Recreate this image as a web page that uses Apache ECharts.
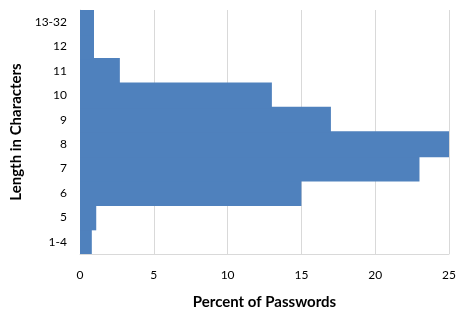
<!DOCTYPE html>
<html><head><meta charset="utf-8">
<script src="https://cdn.jsdelivr.net/npm/echarts@6/dist/echarts.min.js"></script>
<style>html,body{margin:0;padding:0;background:#fff}#c{width:458px;height:318px}</style>
</head><body><div id="c"></div>
<script>
var categories = ['1-4','5','6','7','8','9','10','11','12','13-32'];
var percents = [0.8, 1.1, 15, 23, 25, 17, 13, 2.7, 0.95, 0.95];
var xTicks = {min: 0, max: 25, interval: 5};

var chart = echarts.init(document.getElementById('c'));
chart.setOption({
  animation: false,
  grid: {left: 80, right: 9, top: 10, bottom: 64, containLabel: false, outerBoundsMode: 'none'},
  xAxis: {
    type: 'value', min: xTicks.min, max: xTicks.max, interval: xTicks.interval,
    name: 'Percent of Passwords', nameLocation: 'middle', nameGap: 41,
    nameTextStyle: {fontFamily: 'Lato', fontWeight: 'bold', fontSize: 15, color: '#000'},
    axisLine: {show: true, lineStyle: {color: '#d9d9d9'}},
    axisTick: {show: false},
    axisLabel: {fontFamily: 'Lato', fontSize: 12, color: '#000', margin: 15},
    splitLine: {show: true, lineStyle: {color: '#d9d9d9'}}
  },
  yAxis: {
    type: 'category', data: categories,
    name: 'Length in Characters', nameLocation: 'middle', nameGap: 55, nameRotate: 90,
    nameTextStyle: {fontFamily: 'Lato', fontWeight: 'bold', fontSize: 15, color: '#000'},
    axisLine: {show: true, lineStyle: {color: '#d9d9d9'}},
    axisTick: {show: false},
    axisLabel: {fontFamily: 'Lato', fontSize: 12, color: '#000', margin: 13}
  },
  series: [{
    type: 'bar', data: percents, barWidth: '106%',
    itemStyle: {color: '#4f81bd'}
  }]
});
</script></body></html>
